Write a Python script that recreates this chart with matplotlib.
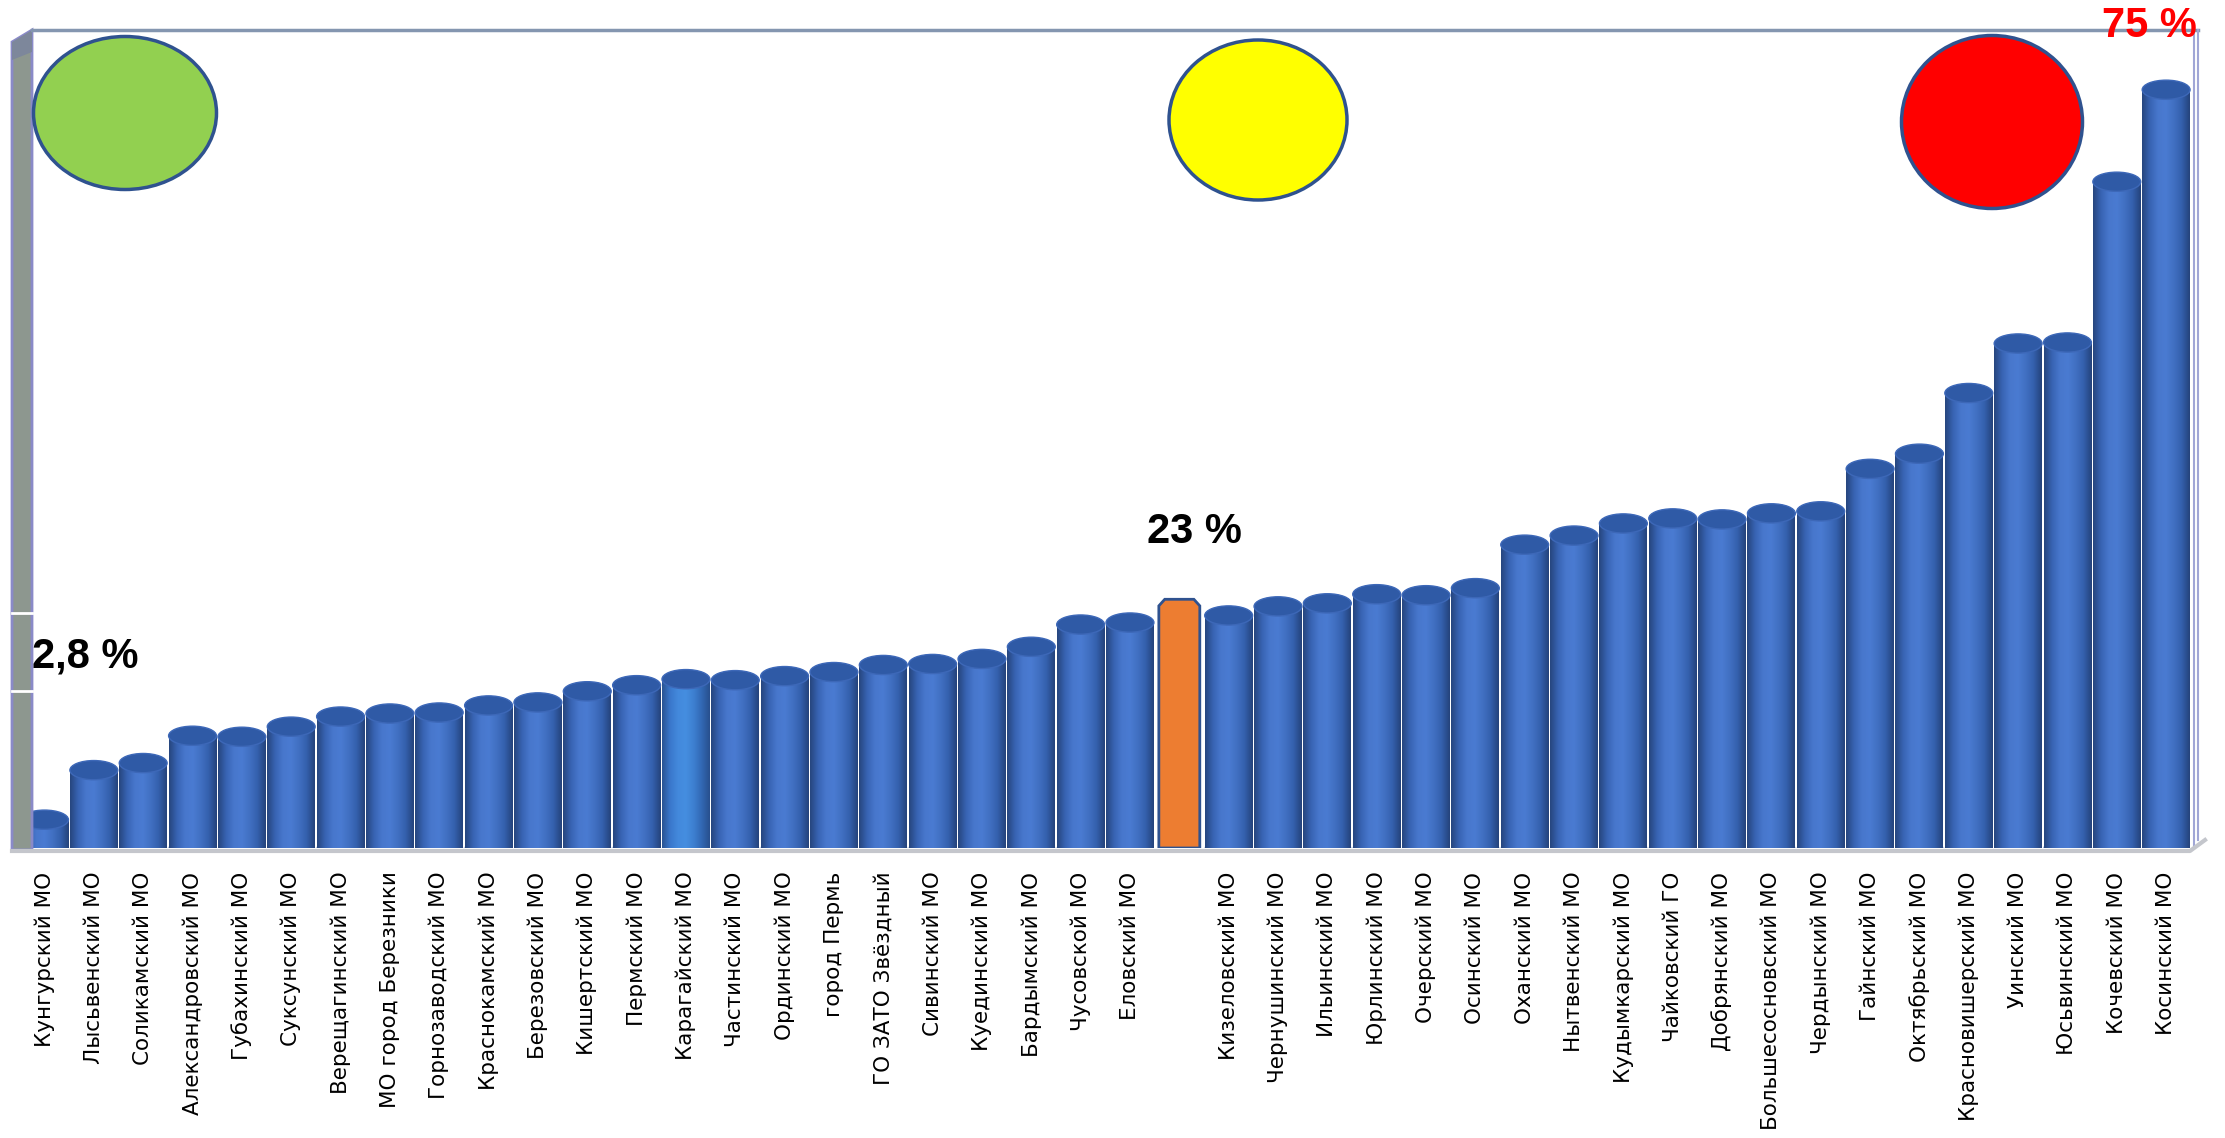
import matplotlib
matplotlib.use("Agg")
import matplotlib.pyplot as plt
import numpy as np
from matplotlib.colors import LinearSegmentedColormap
from matplotlib.patches import Ellipse, Polygon
from matplotlib.lines import Line2D

# Municipalities, sorted by value (orange bar = regional average, no label)
districts = [
    "Кунгурский МО", "Лысьвенский МО", "Соликамский МО", "Александровский МО",
    "Губахинский МО", "Суксунский МО", "Верещагинский МО", "МО город Березники",
    "Горнозаводский МО", "Краснокамский МО", "Березовский МО", "Кишертский МО",
    "Пермский МО", "Карагайский МО", "Частинский МО", "Ординский МО",
    "город Пермь", "ГО ЗАТО Звёздный", "Сивинский МО", "Куединский МО",
    "Бардымский МО", "Чусовской МО", "Еловский МО", "",
    "Кизеловский МО", "Чернушинский МО", "Ильинский МО", "Юрлинский МО",
    "Очерский МО", "Осинский МО", "Оханский МО", "Нытвенский МО",
    "Кудымкарский МО", "Чайковский ГО", "Добрянский МО", "Большесосновский МО",
    "Чердынский МО", "Гайнский МО", "Октябрьский МО", "Красновишерский МО",
    "Уинский МО", "Юсьвинский МО", "Кочевский МО", "Косинский МО",
]
values = [
    2.8, 7.7, 8.4, 11.1, 11.0, 12.0, 13.0, 13.3, 13.4, 14.1, 14.4, 15.5,
    16.1, 16.7, 16.6, 17.0, 17.4, 18.1, 18.2, 18.7, 19.9, 22.1, 22.3, 24.6,
    23.0, 23.9, 24.2, 25.1, 25.0, 25.7, 30.0, 30.9, 32.1, 32.6, 32.5, 33.1,
    33.3, 37.5, 39.0, 45.0, 49.9, 50.0, 65.9, 75.0,
]
average_index = 23
min_label = "2,8 %"
avg_label = "23 %"
max_label = "75 %"

W, H = 2225, 1138
fig = plt.figure(figsize=(W / 100, H / 100), dpi=100)
fx = lambda px: px / W
fy = lambda py: 1 - py / H

# plot area, in pixels of the picture
left, right, top, bottom = 32, 2193, 30, 848
ax = fig.add_axes([fx(left), fy(bottom), fx(right - left), (bottom - top) / H])
ax.set_facecolor("none")

cyl = LinearSegmentedColormap.from_list(
    "cyl", ["#27467f", "#3864b4", "#4877cc", "#4a7bd2", "#4170c2", "#3460ad", "#25447c"])
cyl_light = LinearSegmentedColormap.from_list(
    "cyl2", ["#2a5494", "#3a78cc", "#4389dc", "#458ee0", "#3d7fd0", "#3268b4", "#28508e"])
grad = np.linspace(0, 1, 64).reshape(1, -1)

x = np.arange(len(values))
width = 0.97
ell_h = 1.9
for i, v in enumerate(values):
    if i == average_index:
        w2, dx, dy = 0.415, 0.12, 0.65
        pts = [(i - w2, 0), (i - w2, v - dy), (i - w2 + dx, v), (i + w2 - dx, v),
               (i + w2, v - dy), (i + w2, 0)]
        ax.add_patch(Polygon(pts, closed=True, facecolor="#ed7d31",
                             edgecolor="#2f528f", lw=2, zorder=4))
        continue
    cmap = cyl_light if districts[i] == "Карагайский МО" else cyl
    ax.imshow(grad, extent=[i - width / 2, i + width / 2, 0, v], aspect="auto",
              cmap=cmap, interpolation="bicubic", zorder=2)
    ax.add_patch(Ellipse((i, 0), width, ell_h, facecolor="#3a66b4",
                         edgecolor="none", zorder=1.5))
    ax.add_patch(Ellipse((i, v), width, ell_h, facecolor="#2f5aa6",
                         edgecolor="#3d68b8", lw=1, zorder=3))

ax.set_xlim((left - 44.5) / 49.34, (right - 44.5) / 49.34)
ax.set_ylim(0, (bottom - top) / 10.11)
ax.set_xticks(x)
ax.set_xticklabels(districts, rotation=90, fontsize=15.5, family="DejaVu Sans")
ax.tick_params(axis="x", length=0, pad=17)
ax.set_yticks([])
for s in ax.spines.values():
    s.set_visible(False)

# 3D box: left wall, floor, top and right edges
wall = Polygon([(fx(12), fy(42)), (fx(32), fy(30)), (fx(32), fy(850)), (fx(12), fy(850))],
               closed=True, transform=fig.transFigure, facecolor="#8d978f",
               edgecolor="#8a8ac8", lw=2)
fig.add_artist(wall)
wall_top = Polygon([(fx(12), fy(42)), (fx(32), fy(30)), (fx(32), fy(52)), (fx(12), fy(60))],
                   closed=True, transform=fig.transFigure, facecolor="#7d879b",
                   edgecolor="none")
fig.add_artist(wall_top)
for py in (613, 691):
    fig.add_artist(Line2D([fx(12), fx(32)], [fy(py), fy(py)], transform=fig.transFigure,
                          color="white", lw=2))
fig.add_artist(Line2D([fx(32), fx(2198)], [fy(30), fy(30)], transform=fig.transFigure,
                      color="#8496b0", lw=2.5))
fig.add_artist(Line2D([fx(2194), fx(2194)], [fy(30), fy(848)], transform=fig.transFigure,
                      color="#a0a6d6", lw=1.5))
fig.add_artist(Line2D([fx(2198), fx(2198)], [fy(30), fy(840)], transform=fig.transFigure,
                      color="#a0a6d6", lw=1.5))
fig.add_artist(Line2D([fx(12), fx(2190), fx(2205)], [fy(851), fy(851), fy(840)],
                      transform=fig.transFigure, color="#c4c6cc", lw=3))

# traffic-light circles
for cx, cy, ew, eh, col in [(125, 113, 183, 153, "#92d050"),
                            (1258, 120, 178, 160, "#ffff00"),
                            (1992, 122, 181, 173, "#ff0000")]:
    fig.add_artist(Ellipse((fx(cx), fy(cy)), ew / W, eh / H, transform=fig.transFigure,
                           facecolor=col, edgecolor="#2f528f", lw=2.5))

bold = dict(fontsize=30, fontweight="bold", family="Liberation Sans", va="baseline")
fig.text(fx(32), fy(668), min_label, ha="left", color="black", **bold)
fig.text(fx(1194), fy(543), avg_label, ha="center", color="black", **bold)
fig.text(fx(2149), fy(37), max_label, ha="center", color="#ff0000", **bold)

fig.savefig("out.png", dpi=100)
